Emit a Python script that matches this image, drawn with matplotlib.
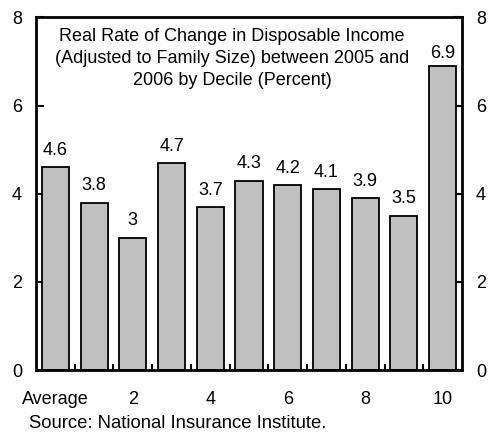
import matplotlib
matplotlib.use("Agg")
import matplotlib.pyplot as plt
from matplotlib.ticker import FixedLocator

plt.rcParams['font.family'] = ['Liberation Sans', 'DejaVu Sans']

categories = ["Average", "1", "2", "3", "4", "5", "6", "7", "8", "9", "10"]
values = [4.6, 3.8, 3.0, 4.7, 3.7, 4.3, 4.2, 4.1, 3.9, 3.5, 6.9]
value_labels = ["4.6", "3.8", "3", "4.7", "3.7", "4.3", "4.2", "4.1", "3.9", "3.5", "6.9"]
shown_ticks = [0, 2, 4, 6, 8, 10]
y_ticks = [0, 2, 4, 6, 8]
title = ("Real Rate of Change in Disposable Income\n"
         "(Adjusted to Family Size) between 2005 and\n"
         "2006 by Decile (Percent)")
source = "Source: National Insurance Institute."

FS = 13

fig = plt.figure(figsize=(4.89, 4.32), dpi=100)
ax = fig.add_axes([0.0736, 0.1435, 0.8712, 0.816])

x = list(range(len(categories)))
ax.bar(x, values, width=0.7, color="#c0c0c0", edgecolor="black", linewidth=1.3, zorder=2)

for xi, v, lab in zip(x, values, value_labels):
    # tall bars near the top of the frame get a tighter label gap
    off = 6 if v < 6 else 3
    ax.annotate(lab, (xi, v), xytext=(0, off), textcoords="offset points",
                ha="center", va="bottom", fontsize=FS)

ax.set_xlim(-0.5, len(categories) - 0.5)
ax.set_ylim(0, 8)

ax.set_xticks(shown_ticks)
ax.set_xticklabels([categories[i] for i in shown_ticks])
ax.tick_params(axis="x", which="major", length=0, pad=15, labelsize=FS)
ax.xaxis.set_minor_locator(FixedLocator([i + 0.5 for i in range(len(categories) - 1)]))
ax.tick_params(axis="x", which="minor", direction="in", length=4, width=1.5)

ax.set_yticks(y_ticks)
ax.tick_params(axis="y", which="major", direction="in", length=6, width=1.5,
               left=True, right=True, labelleft=True, labelright=True, pad=10, labelsize=FS)

for s in ax.spines.values():
    s.set_linewidth(2)

ax.text(0.46, 0.97, title, transform=ax.transAxes, ha="center", va="top",
        fontsize=FS, linespacing=1.38)

fig.text(29 / 489, 1 - 424 / 432, source, ha="left", va="center", fontsize=FS + 0.3)

fig.savefig("out.png", dpi=100)
